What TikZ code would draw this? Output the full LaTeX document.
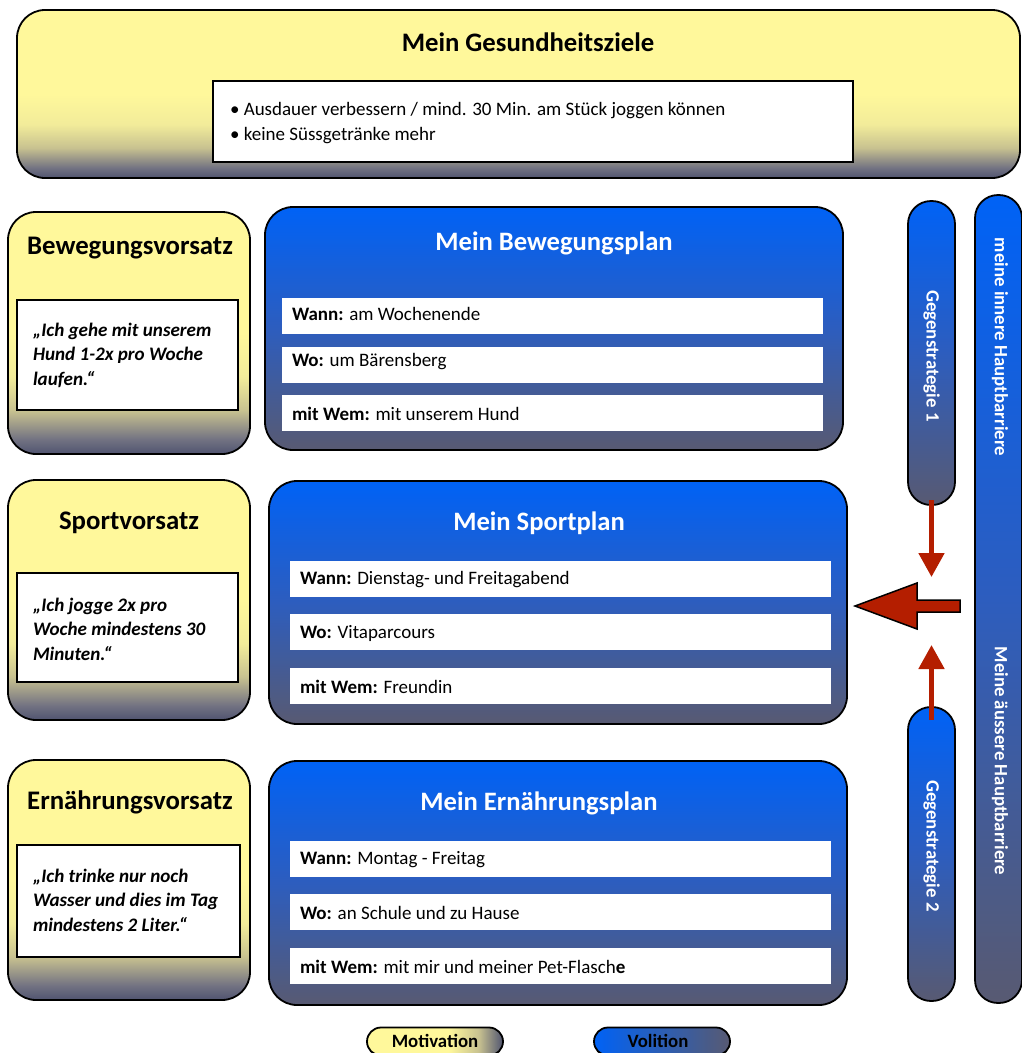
\documentclass[tikz,border=0pt]{standalone}
\usepackage{fontspec}
\setmainfont{Carlito}
\usetikzlibrary{arrows.meta,calc}

\definecolor{myellow}{HTML}{FFF89B}
\definecolor{m3}{HTML}{F2EC9A}
\definecolor{m2}{HTML}{C8C290}
\definecolor{m1}{HTML}{727282}
\definecolor{mgray}{HTML}{505470}
\definecolor{vblue}{HTML}{0062F6}
\definecolor{vmid}{HTML}{2D5DBE}
\definecolor{vgray}{HTML}{585A72}
\definecolor{barred}{HTML}{B41E00}

% vertical shadings: the path spans 25bp (bottom) to 75bp (top)
\pgfdeclareverticalshading{motiv}{100bp}{color(0bp)=(mgray); color(25bp)=(mgray); color(28bp)=(m1); color(34bp)=(m2); color(41bp)=(m3); color(50bp)=(myellow); color(100bp)=(myellow)}
\pgfdeclareverticalshading{volit}{100bp}{color(0bp)=(vgray); color(25bp)=(vgray); color(50bp)=(vmid); color(75bp)=(vblue); color(100bp)=(vblue)}
% horizontal shadings for the legend
\pgfdeclarehorizontalshading{motivh}{100bp}{color(0bp)=(myellow); color(25bp)=(myellow); color(55bp)=(myellow); color(66bp)=(m2); color(75bp)=(mgray); color(100bp)=(mgray)}
\pgfdeclarehorizontalshading{volith}{100bp}{color(0bp)=(vblue); color(25bp)=(vblue); color(75bp)=(vgray); color(100bp)=(vgray)}

\tikzset{
  every node/.style={inner sep=0pt, outer sep=0pt},
  motbox/.style={draw=black, line width=1.8pt, rounded corners=28pt, shading=motiv},
  volbox/.style={draw=black, line width=1.8pt, rounded corners=28pt, shading=volit},
  pill/.style={draw=black, line width=1.8pt, rounded corners=23pt, shading=volit, minimum width=47pt},
  quotebox/.style={draw=black, line width=1.5pt, fill=white},
  rowbox/.style={fill=white, minimum width=541pt, minimum height=36pt},
  bigtitle/.style={font=\fontsize{26.7}{30}\selectfont\bfseries},
  sidetitle/.style={font=\fontsize{26.8}{30}\selectfont\bfseries},
  plantitle/.style={font=\fontsize{26.6}{30}\selectfont\bfseries, text=white},
  bodytext/.style={font=\fontsize{19}{22}\selectfont, anchor=west},
  quotetext/.style={font=\fontsize{19.1}{24.5}\selectfont\bfseries\itshape, align=left, anchor=west},
  vtext/.style={font=\fontsize{18.8}{22}\selectfont\bfseries, text=white, rotate=-90},
  legtext/.style={font=\fontsize{18.8}{22}\selectfont\bfseries},
  redarrow/.style={draw=barred, line width=5pt, -{Triangle[width=25pt,length=24pt]}},
}

\begin{document}
\begin{tikzpicture}[x=1pt, y=-1pt]
\useasboundingbox (0,0) rectangle (1022,1053);
\begin{scope}
\clip (0,0) rectangle (1022,1053);

% ---------- health goals ----------
\node[motbox, minimum width=1003pt, minimum height=168pt] (goals) at (518.5,94) {};
\node[bigtitle] (goalstitle) at (528,42) {Mein Gesundheitsziele};
\node[quotebox, minimum width=640pt, minimum height=81pt] (goallist) at (533,121.5) {};
\node[bodytext] (goal1) at (230,111) {• Ausdauer verbessern / mind. 30 Min. am Stück joggen können};
\node[bodytext] (goal2) at (230,136) {• keine Süssgetränke mehr};

% ---------- intentions (left column) ----------
\node[motbox, minimum width=242pt, minimum height=242pt] (bewv) at (129,333) {};
\node[sidetitle] (bewvt) at (130,248) {Bewegungsvorsatz};
\node[quotebox, minimum width=221pt, minimum height=110pt] (bewq) at (127.5,355) {};
\node[quotetext] (bewqt) at (33,355) {„Ich gehe mit unserem\\Hund 1-2x pro Woche\\laufen.“};

\node[motbox, minimum width=242pt, minimum height=240pt] (spov) at (129,600) {};
\node[sidetitle] (spovt) at (129,523) {Sportvorsatz};
\node[quotebox, minimum width=221pt, minimum height=109pt] (spoq) at (127.5,627.5) {};
\node[quotetext] (spoqt) at (33,629) {„Ich jogge 2x pro\\Woche mindestens 30\\Minuten.“};

\node[motbox, minimum width=242pt, minimum height=240pt] (ernv) at (129,880) {};
\node[sidetitle] (ernvt) at (130,802) {Ernährungsvorsatz};
\node[quotebox, minimum width=223pt, minimum height=112pt] (ernq) at (128.5,901) {};
\node[quotetext] (ernqt) at (33,900) {„Ich trinke nur noch\\Wasser und dies im Tag\\mindestens 2 Liter.“};

% ---------- plans (middle column) ----------
\node[volbox, minimum width=578pt, minimum height=243pt] (bewp) at (554,328.5) {};
\node[plantitle] (bewpt) at (554,243) {Mein Bewegungsplan};
\node[rowbox] (bewr1) at (552.5,316) {};
\node[rowbox] (bewr2) at (552.5,365) {};
\node[rowbox] (bewr3) at (552.5,413) {};
\node[bodytext] at (292,314) {\textbf{Wann:} am Wochenende};
\node[bodytext] at (292,362) {\textbf{Wo:} um Bärensberg};
\node[bodytext] at (292,414) {\textbf{mit Wem:} mit unserem Hund};

\node[volbox, minimum width=578pt, minimum height=243pt] (spop) at (558,602.5) {};
\node[plantitle] (spopt) at (539,523) {Mein Sportplan};
\node[rowbox] (spor1) at (560.5,579) {};
\node[rowbox] (spor2) at (560.5,632) {};
\node[rowbox] (spor3) at (560.5,686) {};
\node[bodytext] at (300,580) {\textbf{Wann:} Dienstag- und Freitagabend};
\node[bodytext] at (300,633) {\textbf{Wo:} Vitaparcours};
\node[bodytext] at (300,687) {\textbf{mit Wem:} Freundin};

\node[volbox, minimum width=578pt, minimum height=244pt] (ernp) at (558,883) {};
\node[plantitle] (ernpt) at (539,803) {Mein Ernährungsplan};
\node[rowbox] (ernr1) at (560.5,859) {};
\node[rowbox] (ernr2) at (560.5,912) {};
\node[rowbox] (ernr3) at (560.5,966) {};
\node[bodytext] at (300,860) {\textbf{Wann:} Montag - Freitag};
\node[bodytext] at (300,913) {\textbf{Wo:} an Schule und zu Hause};
\node[bodytext] at (300,967) {\textbf{mit Wem:} mit mir und meiner Pet-Flasch\textbf{e}};

% ---------- barriers and counter-strategies (right) ----------
\node[pill, minimum height=304pt] (gs1) at (931.5,353) {};
\node[vtext] at (931.5,356) {Gegenstrategie 1};
\node[pill, minimum height=294pt] (gs2) at (931.5,854) {};
\node[vtext] at (931.5,846) {Gegenstrategie 2};
\node[pill, minimum height=808pt] (barr) at (998.5,599) {};
\node[vtext] at (1000,347) {meine innere Hauptbarriere};
\node[vtext] at (1000,761) {Meine äussere Hauptbarriere};

% counter-strategy arrows
\coordinate (down) at (931.5,577);
\coordinate (up) at (931.5,645);
\draw[redarrow] ($(gs1.south)+(0,-5)$) -- (down);
\draw[redarrow] ($(gs2.north)+(0,13)$) -- (up);

% barrier pushing onto the sport plan
\coordinate (tip) at ($(spop.east)+(8,3.5)$);
\coordinate (tail) at ($(barr.west)+(-15,7)$);
\draw[draw=black, line width=1.5pt, fill=barred, line join=miter]
  (tip) -- ($(tip)+(62,-23)$) -- ($(tip)+(62,-6)$) -- ($(tail)+(0,-6)$)
  -- ($(tail)+(0,6)$) -- ($(tip)+(62,6)$) -- ($(tip)+(62,23)$) -- cycle;

% ---------- legend ----------
\node[draw=black, line width=1.8pt, rounded corners=14pt, shading=motivh, minimum width=136pt, minimum height=28pt] (legm) at (435,1041.5) {};
\node[legtext] at (435,1041) {Motivation};
\node[draw=black, line width=1.8pt, rounded corners=14pt, shading=volith, minimum width=136pt, minimum height=28pt] (legv) at (662,1041.5) {};
\node[legtext] at (658,1041) {Volition};
\end{scope}
\end{tikzpicture}
\end{document}
